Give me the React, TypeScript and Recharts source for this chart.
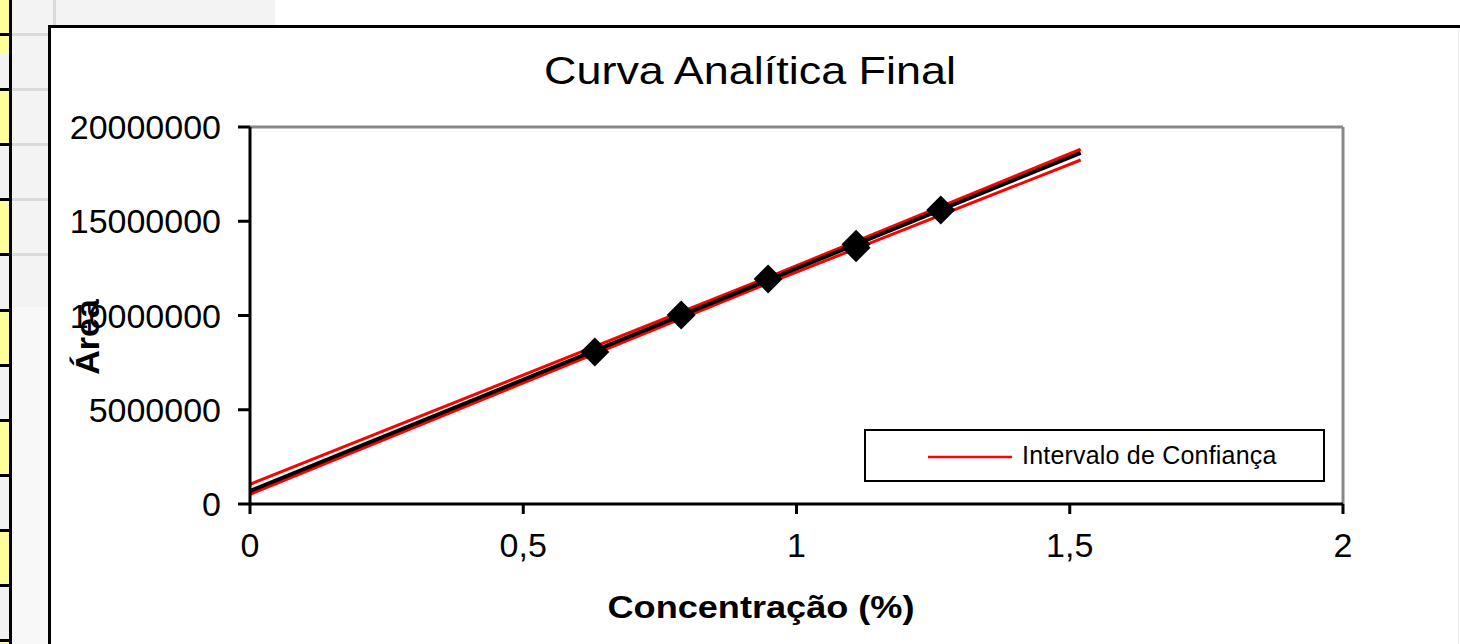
import React from "react";
import { ComposedChart, Line, Scatter, XAxis, YAxis, ReferenceLine, Legend } from "recharts";

// calibration points (concentration %, peak area)
const concentrations = [0.631, 0.789, 0.948, 1.109, 1.109, 1.264];
const areas = [8060000, 10030000, 11940000, 13600000, 13780000, 15600000];

// fitted line
const fitX = [0, 1.52];
const fitY = [690000, 18630000];

// confidence interval bounds
const ciX = [0, 0.95, 1.52];
const ciUpper = [1045000, 12050000, 18820000];
const ciLower = [515000, 11730000, 18250000];

const xTicks = [0, 0.5, 1, 1.5, 2];
const yTicks = [0, 5000000, 10000000, 15000000, 20000000];

const points = concentrations.map((x, i) => ({ x, y: areas[i] }));
const fit = fitX.map((x, i) => ({ x, y: fitY[i] }));
const upper = ciX.map((x, i) => ({ x, y: ciUpper[i] }));
const lower = ciX.map((x, i) => ({ x, y: ciLower[i] }));

const FONT = "'Liberation Sans', Arial, sans-serif";

const Diamond = (props: any) => {
  const { cx, cy } = props;
  const r = 14.5;
  return <path d={`M${cx},${cy - r}L${cx + r},${cy}L${cx},${cy + r}L${cx - r},${cy}Z`} fill="#000" />;
};

const LegendBox = (props: any) => {
  const items = (props.payload || []).filter((p: any) => p.type !== "none");
  return (
    <div
      style={{
        boxSizing: "border-box",
        width: 461,
        height: 53,
        border: "2px solid #000",
        background: "#fff",
        display: "flex",
        alignItems: "center",
        paddingLeft: 62,
        fontFamily: FONT,
        fontSize: 25,
        letterSpacing: 0.2,
        color: "#000",
      }}
    >
      {items.map((it: any) => (
        <React.Fragment key={it.value}>
          <svg width={84} height={4} style={{ marginRight: 10, marginTop: 2 }}>
            <line x1={0} y1={2} x2={84} y2={2} stroke={it.color} strokeWidth={2.5} />
          </svg>
          <span>{it.value}</span>
        </React.Fragment>
      ))}
    </div>
  );
};

const rowLines = Array.from({ length: 12 }, (_, i) => 34 + i * 55.1);

export default function App() {
  return (
    <div style={{ position: "absolute", left: 0, top: 0, width: 1460, height: 644, overflow: "hidden", background: "#fff" }}>
      {/* spreadsheet strip on the left */}
      <div style={{ position: "absolute", left: 0, top: 0, width: 9, height: 644, background: "#f2f2f2" }} />
      {[-1, ...rowLines].map((y, i) =>
        i % 2 === 0 ? (
          <div key={`c${i}`} style={{ position: "absolute", left: 0, top: y, width: 9, height: 55, background: "#ffff99" }} />
        ) : null
      )}
      {rowLines.map((y) => (
        <div key={`b${y}`} style={{ position: "absolute", left: 0, top: y - 1, width: 9, height: 3, background: "#000" }} />
      ))}
      <div style={{ position: "absolute", left: 9, top: 0, width: 3, height: 644, background: "#000" }} />
      <div style={{ position: "absolute", left: 12, top: 0, width: 40, height: 307, background: "#f3f3f3" }} />
      <div style={{ position: "absolute", left: 12, top: 307, width: 40, height: 337, background: "#f8f8f8" }} />
      {rowLines.slice(0, 5).map((y) => (
        <div key={`g${y}`} style={{ position: "absolute", left: 12, top: y - 1, width: 40, height: 3, background: "#dadada" }} />
      ))}
      <div style={{ position: "absolute", left: 12, top: 0, width: 263, height: 26, background: "#f3f3f3" }} />
      <div style={{ position: "absolute", left: 53, top: 0, width: 3, height: 26, background: "#dadada" }} />

      {/* chart frame */}
      <div style={{ position: "absolute", left: 48, top: 25, width: 1500, height: 700, border: "3px solid #000", background: "#fff" }} />
      <div style={{ position: "absolute", left: 1458, top: 28, width: 1, height: 620, background: "#eee" }} />

      <div style={{ position: "absolute", left: 0, top: 0 }}>
        <ComposedChart width={1460} height={644} margin={{ top: 127, right: 117, bottom: 40, left: 60 }}>
          <XAxis
            type="number"
            dataKey="x"
            domain={[0, 2]}
            ticks={xTicks}
            allowDataOverflow
            height={100}
            tickSize={10}
            tickMargin={19}
            tickFormatter={(v: number) => String(v).replace(".", ",")}
            tick={{ fill: "#000", fontSize: 34, fontFamily: FONT }}
            axisLine={{ stroke: "#000", strokeWidth: 3 }}
            tickLine={{ stroke: "#000", strokeWidth: 3 }}
          />
          <YAxis
            type="number"
            dataKey="y"
            domain={[0, 20000000]}
            ticks={yTicks}
            allowDataOverflow
            width={190}
            tickSize={12}
            tickMargin={17}
            tick={{ fill: "#000", fontSize: 34, fontFamily: FONT }}
            axisLine={{ stroke: "#000", strokeWidth: 3 }}
            tickLine={{ stroke: "#000", strokeWidth: 3 }}
          />
          <ReferenceLine y={20000000} stroke="#888" strokeWidth={3} />
          <ReferenceLine x={2} stroke="#888" strokeWidth={3} />
          <Line data={upper} dataKey="y" name="Intervalo de Confiança" stroke="#ff0000" strokeWidth={3} dot={false} isAnimationActive={false} />
          <Line data={lower} dataKey="y" name="lower" legendType="none" stroke="#ff0000" strokeWidth={3} dot={false} isAnimationActive={false} />
          <Line data={fit} dataKey="y" name="fit" legendType="none" stroke="#000" strokeWidth={4} dot={false} isAnimationActive={false} />
          <Scatter data={points} dataKey="y" name="pontos" legendType="none" shape={Diamond} isAnimationActive={false} />
          <Legend
            layout="horizontal"
            verticalAlign="middle"
            align="center"
            content={LegendBox}
            wrapperStyle={{ position: "absolute", left: 864, top: 429, width: 461, height: 53 }}
          />
        </ComposedChart>
      </div>

      {/* titles */}
      <svg width={1460} height={644} style={{ position: "absolute", left: 0, top: 0, pointerEvents: "none" }}>
        <text x={750} y={84} textAnchor="middle" fontFamily={FONT} fontSize={39} textLength={412} lengthAdjust="spacingAndGlyphs">
          Curva Analítica Final
        </text>
        <text x={761} y={618} textAnchor="middle" fontFamily={FONT} fontSize={32} fontWeight="bold" textLength={307} lengthAdjust="spacingAndGlyphs">
          Concentração (%)
        </text>
        <text x={0} y={0} transform="translate(99,337) rotate(-90)" textAnchor="middle" fontFamily={FONT} fontSize={34} fontWeight="bold">
          Área
        </text>
      </svg>
    </div>
  );
}
